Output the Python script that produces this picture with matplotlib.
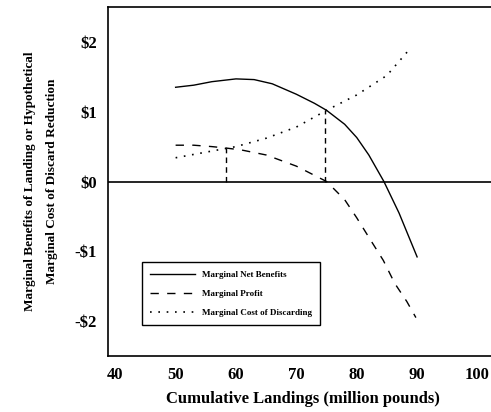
import matplotlib
matplotlib.use("Agg")
import matplotlib.pyplot as plt
import numpy as np

plt.rcParams['font.family'] = ['Liberation Serif', 'DejaVu Serif']

net_x = [50, 53, 56, 60, 63, 66, 70, 73, 75, 78, 80, 82, 84.5, 87, 90]
net_y = [1.35, 1.38, 1.43, 1.47, 1.46, 1.40, 1.25, 1.12, 1.02, 0.82, 0.63, 0.38, 0.0, -0.45, -1.08]

profit_x = [50, 53, 56, 58.3, 61, 65, 70, 75, 78, 80, 82.3, 84.4, 86.3, 88.3, 89.8]
profit_y = [0.52, 0.52, 0.50, 0.48, 0.45, 0.38, 0.22, 0.0, -0.26, -0.52, -0.84, -1.13, -1.46, -1.72, -1.95]

cost_x = [50, 55, 60, 65, 70, 75, 80, 85, 88.6]
cost_y = [0.34, 0.42, 0.50, 0.62, 0.78, 1.02, 1.24, 1.52, 1.88]

vline_x = [58.3, 74.8]
vline_top = [0.48, 1.02]

xticks = [40, 50, 60, 70, 80, 90, 100]
yticks = [-2, -1, 0, 1, 2]
ytick_labels = ['-$2', '-$1', '$0', '$1', '$2']

fig = plt.figure(figsize=(4.91, 4.12), dpi=100)
W, H = 491, 412
ax = fig.add_axes([108 / W, (H - 356) / H, 390 / W, 349 / H])

ax.plot(net_x, net_y, color='black', lw=1.0, label='Marginal Net Benefits')
ax.plot(profit_x, profit_y, color='black', lw=1.0, linestyle=(0, (6, 6)), label='Marginal Profit')
ax.plot(cost_x, cost_y, color='black', lw=1.2, linestyle=(0, (1, 4)), label='Marginal Cost of Discarding')
for vx, vt in zip(vline_x, vline_top):
    ax.plot([vx, vx], [0, vt], color='black', lw=1.0, linestyle=(0, (4, 3)))
ax.axhline(0, color='black', lw=1.2)

ax.set_xlim(38.8, 103.4)
ax.set_ylim(-2.5, 2.5)
ax.set_xticks(xticks)
ax.set_xticklabels([str(t) for t in xticks], fontsize=12, fontweight='bold')
ax.set_yticks(yticks)
ax.set_yticklabels(ytick_labels, fontsize=12, fontweight='bold')
ax.tick_params(length=0, pad=8)
for s in ax.spines.values():
    s.set_linewidth(1.2)

ax.set_xlabel('Cumulative Landings (million pounds)', fontsize=12, fontweight='bold', labelpad=6)
ax.set_ylabel('Marginal Benefits of Landing or Hypothetical\nMarginal Cost of Discard Reduction',
              fontsize=9.5, fontweight='bold', labelpad=12, linespacing=2.1)

leg = ax.legend(loc='lower left', bbox_to_anchor=(0.075, 0.075), frameon=True,
                fancybox=False, edgecolor='black', framealpha=1, handlelength=5,
                labelspacing=1.2, borderpad=0.9, prop={'size': 6.5, 'weight': 'bold'})
leg.get_frame().set_linewidth(1.0)

fig.savefig('out.png', dpi=100)
